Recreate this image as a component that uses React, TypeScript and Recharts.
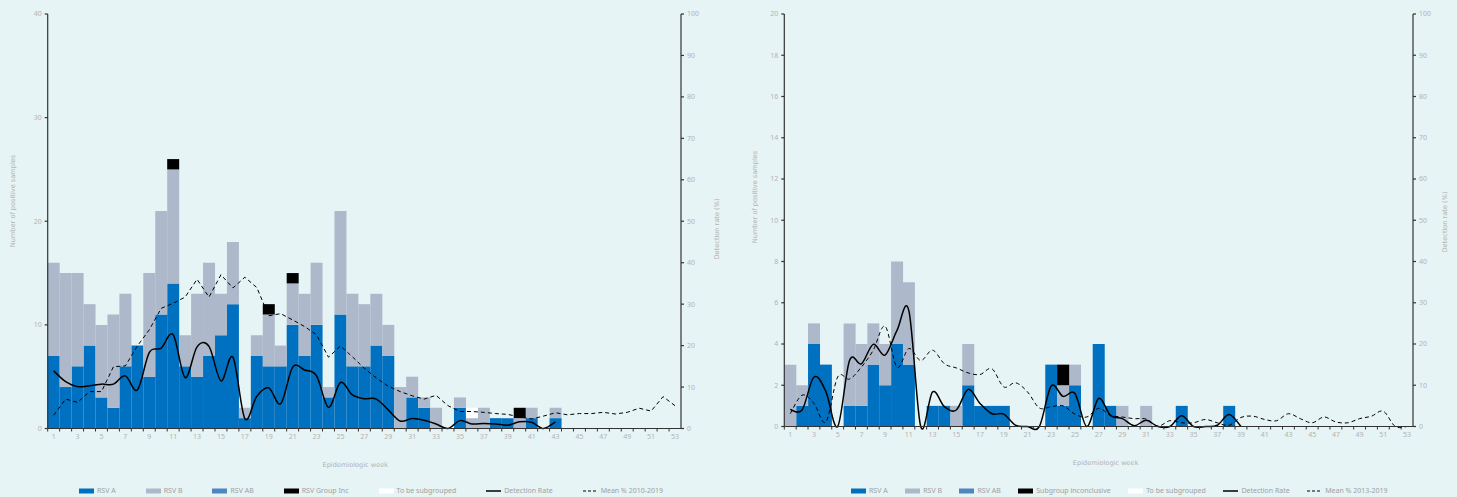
import React from "react";
import {
  ComposedChart,
  Bar,
  Line,
  XAxis,
  YAxis,
  Label,
} from "recharts";

// epidemiologic weeks 1..53
const weeks = Array.from({ length: 53 }, (_, i) => i + 1);

// left panel (2010-2019 mean)
const leftRsvA = [7, 4, 6, 8, 3, 2, 6, 8, 5, 11, 14, 6, 5, 7, 9, 12, 1, 7, 6, 6, 10, 7, 10, 3, 11, 6, 6, 8, 7, 0, 3, 2, 0, 0, 2, 0, 0, 1, 1, 0, 1, 0, 1];
const leftRsvB = [9, 11, 9, 4, 7, 9, 7, 0, 10, 10, 11, 3, 8, 9, 4, 6, 1, 2, 5, 2, 4, 6, 6, 1, 10, 7, 6, 5, 3, 4, 2, 1, 2, 0, 1, 1, 2, 0, 0, 1, 1, 0, 1];
const leftRsvAB: number[] = [];
const leftGroupInc = [0, 0, 0, 0, 0, 0, 0, 0, 0, 0, 1, 0, 0, 0, 0, 0, 0, 0, 1, 0, 1, 0, 0, 0, 0, 0, 0, 0, 0, 0, 0, 0, 0, 0, 0, 0, 0, 0, 0, 1];
const leftToSubgroup = [0, 0, 0, 0, 0, 0, 0, 0, 0, 0, 0, 0, 0, 0, 0, 0, 0, 0, 0, 0, 0, 0, 0, 0, 0, 0, 0, 0, 0, 0, 0, 0, 0, 0, 0, 1];
const leftDetection = [13.9, 11.3, 10.1, 10.3, 10.7, 10.7, 12.7, 9.3, 18.3, 19.4, 22.6, 12.3, 19.7, 19.8, 11.5, 17.2, 2.4, 7.8, 9.8, 6, 14.8, 14.1, 12.7, 5.1, 11.1, 8.1, 7.2, 7.1, 4.5, 1.8, 2.4, 2, 1.1, 0, 1.9, 1.1, 1.2, 1.1, 0.8, 1.6, 1.5, 0, 1.6];
const leftMean = [3.2, 7.1, 6.3, 8.9, 8.9, 14.9, 15.1, 19.9, 23.8, 29, 30.2, 31.7, 36, 31.7, 37.1, 33.9, 36.5, 34, 27.2, 27.7, 26.2, 24.6, 22.6, 17.2, 19.9, 17.3, 14.5, 12.2, 10.2, 8.9, 7.9, 7.1, 8, 5.5, 4.1, 4.1, 3.9, 3.6, 3.4, 2.8, 2.3, 3, 3.8, 3.3, 3.6, 3.6, 3.9, 3.5, 3.9, 4.9, 4.2, 7.7, 5.5];

// right panel (2013-2019 mean)
const rightRsvA = [0, 1, 4, 3, 0, 1, 1, 3, 2, 4, 3, 0, 1, 1, 0, 2, 1, 1, 1, 0, 0, 0, 3, 1, 2, 0, 4, 1, 0, 0, 0, 0, 0, 1, 0, 0, 0, 1];
const rightRsvB = [3, 1, 1, 0, 0, 4, 3, 2, 2, 4, 4, 0, 0, 0, 1, 2, 0, 0, 0, 0, 0, 0, 0, 1, 1, 0, 0, 0, 1, 0, 1];
const rightRsvAB: number[] = [];
const rightInconclusive = [0, 0, 0, 0, 0, 0, 0, 0, 0, 0, 0, 0, 0, 0, 0, 0, 0, 0, 0, 0, 0, 0, 0, 1];
const rightToSubgroup: number[] = [];
const rightDetection = [4.1, 4, 12, 8.5, 0, 16, 15.2, 19.9, 17.3, 23.3, 28.1, 0, 8.4, 4.8, 4, 9, 5.6, 3.1, 3, 0.3, 0, 0, 9.8, 7.3, 8, 0, 6.8, 2.7, 1.9, 0.2, 1.5, 0, 0, 2.6, 0, 0, 0.3, 2.9, 0];
const rightMean = [3.1, 7.6, 5.6, 1.1, 12, 11.5, 14.4, 18.5, 24.3, 14.4, 18.9, 16, 18.5, 15.2, 14.2, 13, 12.6, 14, 9.6, 10.6, 8.4, 4.5, 4.8, 5, 3, 2.3, 4.4, 2.7, 2.3, 1.9, 1.8, 0.1, 1.4, 0.9, 0.9, 1.7, 0.9, 0.3, 2.2, 2.5, 1.7, 1.4, 3.1, 1.9, 0.9, 2.3, 1.1, 0.9, 1.9, 2.5, 3.7, 0, 0];

const leftCountTicks = [0, 10, 20, 30, 40];
const rightCountTicks = [0, 2, 4, 6, 8, 10, 12, 14, 16, 18, 20];
const rateTicks = [0, 10, 20, 30, 40, 50, 60, 70, 80, 90, 100];

const BG = "#e6f4f5";
const BLUE = "#0070c0";
const GREY = "#adb9ca";
const AB = "#4f86c0";
const TXT = "#b3b3b3";
const AXIS = "#333";
const FONT = "'Noto Sans', sans-serif";
const WIDE = "'DejaVu Sans', sans-serif";

// catmull-rom style smoothing (like spreadsheet "smoothed line")
const smooth: any = (context: any) => {
  let pts: number[][] = [];
  return {
    areaStart() {},
    areaEnd() {},
    lineStart() {
      pts = [];
    },
    point(x: number, y: number) {
      pts.push([+x, +y]);
    },
    lineEnd() {
      const n = pts.length;
      if (!n) return;
      context.moveTo(pts[0][0], pts[0][1]);
      for (let i = 0; i < n - 1; i++) {
        const p0 = pts[i - 1] || pts[i];
        const p1 = pts[i];
        const p2 = pts[i + 1];
        const p3 = pts[i + 2] || p2;
        context.bezierCurveTo(
          p1[0] + (p2[0] - p0[0]) / 6,
          p1[1] + (p2[1] - p0[1]) / 6,
          p2[0] - (p3[0] - p1[0]) / 6,
          p2[1] - (p3[1] - p1[1]) / 6,
          p2[0],
          p2[1]
        );
      }
    },
  };
};

const val = (arr: number[], i: number) => (arr[i] === undefined ? 0 : arr[i]);
const opt = (arr: number[], i: number) => (arr[i] === undefined ? null : arr[i]);

const leftData = weeks.map((w, i) => ({
  week: w,
  a: val(leftRsvA, i),
  b: val(leftRsvB, i),
  ab: val(leftRsvAB, i),
  inc: val(leftGroupInc, i),
  sub: val(leftToSubgroup, i),
  rate: opt(leftDetection, i),
  mean: opt(leftMean, i),
}));

const rightData = weeks.map((w, i) => ({
  week: w,
  a: val(rightRsvA, i),
  b: val(rightRsvB, i),
  ab: val(rightRsvAB, i),
  inc: val(rightInconclusive, i),
  sub: val(rightToSubgroup, i),
  rate: opt(rightDetection, i),
  mean: opt(rightMean, i),
}));

const TICK_SIZE = 3;
const TICK_MARGIN = 3;

const makeWeekTick = (band: number) => (props: any) => {
  const { x, y, payload } = props;
  const axisY = y - TICK_SIZE - TICK_MARGIN;
  const bx = x - band / 2;
  return (
    <g>
      <line x1={bx} x2={bx} y1={axisY} y2={axisY + TICK_SIZE} stroke={AXIS} strokeWidth={1} />
      {payload.value % 2 === 1 && (
        <text x={x} y={y} dy="0.71em" textAnchor="middle" fill={TXT} fontSize={7} fontFamily={FONT}>
          {payload.value}
        </text>
      )}
    </g>
  );
};

// rotated axis title, placed from the axis box
const sideTitle = (text: string, fromLeft: boolean, dist: number, cy: number) => (props: any) => {
  const vb = props.viewBox || {};
  const x = fromLeft ? vb.x + vb.width - dist : vb.x + dist;
  return (
    <text
      x={x}
      y={cy}
      transform={`rotate(-90, ${x}, ${cy})`}
      textAnchor="middle"
      dominantBaseline="central"
      fill={TXT}
      fontSize={6.6}
      fontFamily={WIDE}
    >
      {text}
    </text>
  );
};

type PanelProps = {
  data: any[];
  width: number;
  leftW: number;
  rightW: number;
  bottom: number;
  countMax: number;
  countTicks: number[];
  smoothMean: boolean;
  leftTitleDist: number;
  leftTitleY: number;
  rightTitleDist: number;
  rightTitleY: number;
  weekDx: number;
};

const Panel = (p: PanelProps) => {
  const band = (p.width - p.leftW - p.rightW) / 53;
  const tickStyle = { fill: TXT, fontSize: 7, fontFamily: FONT };
  return (
    <ComposedChart
      width={p.width}
      height={497}
      data={p.data}
      margin={{ top: 14, right: 0, bottom: p.bottom, left: 0 }}
      barCategoryGap={0}
      barGap={0}
    >
      <XAxis
        dataKey="week"
        interval={0}
        height={40}
        stroke={AXIS}
        strokeWidth={1.2}
        tickLine={false}
        tickSize={TICK_SIZE}
        tickMargin={TICK_MARGIN}
        tick={makeWeekTick(band)}
      >
        <Label
          value="Epidemiologic week"
          position="insideBottom"
          offset={2}
          dx={p.weekDx}
          fill={TXT}
          fontSize={6.6}
          fontFamily={WIDE}
        />
      </XAxis>
      <YAxis
        yAxisId="count"
        width={p.leftW}
        domain={[0, p.countMax]}
        ticks={p.countTicks}
        interval={0}
        stroke={AXIS}
        strokeWidth={1.2}
        tickSize={3}
        tickMargin={3}
        tick={tickStyle}
      >
        <Label content={sideTitle("Number of positive samples", true, p.leftTitleDist, p.leftTitleY)} />
      </YAxis>
      <YAxis
        yAxisId="rate"
        orientation="right"
        width={p.rightW}
        domain={[0, 100]}
        ticks={rateTicks}
        interval={0}
        stroke={AXIS}
        strokeWidth={1.2}
        tickSize={3}
        tickMargin={3}
        tick={tickStyle}
      >
        <Label content={sideTitle("Detection rate (%)", false, p.rightTitleDist, p.rightTitleY)} />
      </YAxis>
      <Bar yAxisId="count" dataKey="a" stackId="s" fill={BLUE} isAnimationActive={false} />
      <Bar yAxisId="count" dataKey="b" stackId="s" fill={GREY} isAnimationActive={false} />
      <Bar yAxisId="count" dataKey="ab" stackId="s" fill={AB} isAnimationActive={false} />
      <Bar yAxisId="count" dataKey="inc" stackId="s" fill="#000" isAnimationActive={false} />
      <Bar yAxisId="count" dataKey="sub" stackId="s" fill="#ffffff" isAnimationActive={false} />
      <Line
        yAxisId="rate"
        dataKey="mean"
        type={p.smoothMean ? smooth : "linear"}
        stroke="#000"
        strokeWidth={1}
        strokeDasharray="4 3"
        dot={false}
        activeDot={false}
        isAnimationActive={false}
      />
      <Line
        yAxisId="rate"
        dataKey="rate"
        type={smooth}
        stroke="#000"
        strokeWidth={1.5}
        dot={false}
        activeDot={false}
        isAnimationActive={false}
      />
    </ComposedChart>
  );
};

type LegendItem = { label: string; kind: "box" | "line" | "dash"; color: string };

const leftLegend: LegendItem[] = [
  { label: "RSV A", kind: "box", color: BLUE },
  { label: "RSV B", kind: "box", color: GREY },
  { label: "RSV AB", kind: "box", color: AB },
  { label: "RSV Group Inc", kind: "box", color: "#000" },
  { label: "To be subgrouped", kind: "box", color: "#fff" },
  { label: "Detection Rate", kind: "line", color: "#000" },
  { label: "Mean % 2010-2019", kind: "dash", color: "#000" },
];

const rightLegend: LegendItem[] = [
  { label: "RSV A", kind: "box", color: BLUE },
  { label: "RSV B", kind: "box", color: GREY },
  { label: "RSV AB", kind: "box", color: AB },
  { label: "Subgroup inconclusive", kind: "box", color: "#000" },
  { label: "To be subgrouped", kind: "box", color: "#fff" },
  { label: "Detection Rate", kind: "line", color: "#000" },
  { label: "Mean % 2013-2019", kind: "dash", color: "#000" },
];

const LegendRow = ({ items, left, gap }: { items: LegendItem[]; left: number; gap: number }) => (
  <div
    style={{
      position: "absolute",
      left,
      top: 486,
      display: "flex",
      alignItems: "center",
      gap,
      fontFamily: FONT,
      fontSize: 7,
      color: "#a0a0a0",
      whiteSpace: "nowrap",
    }}
  >
    {items.map((it) => (
      <div key={it.label} style={{ display: "flex", alignItems: "center" }}>
        <svg width={16} height={6} style={{ marginRight: 2 }}>
          {it.kind === "box" && <rect x={0} y={0.5} width={15} height={5} fill={it.color} />}
          {it.kind === "line" && <line x1={0} x2={15} y1={3} y2={3} stroke={it.color} strokeWidth={1.5} />}
          {it.kind === "dash" && (
            <line x1={0} x2={15} y1={3} y2={3} stroke={it.color} strokeWidth={1} strokeDasharray="3 2" />
          )}
        </svg>
        <span>{it.label}</span>
      </div>
    ))}
  </div>
);

export default function App() {
  return (
    <div style={{ position: "fixed", left: 0, top: 0, width: 1457, height: 497, background: BG, overflow: "hidden" }}>
      <div style={{ position: "absolute", left: 0, top: 0 }}>
        <Panel
          data={leftData}
          width={730}
          leftW={47.7}
          rightW={49}
          bottom={28.5}
          countMax={40}
          countTicks={leftCountTicks}
          smoothMean={false}
          leftTitleDist={35}
          leftTitleY={201}
          rightTitleDist={36}
          rightTitleY={229}
          weekDx={-9}
        />
      </div>
      <div style={{ position: "absolute", left: 730, top: 0 }}>
        <Panel
          data={rightData}
          width={727}
          leftW={54.3}
          rightW={44}
          bottom={30.5}
          countMax={20}
          countTicks={rightCountTicks}
          smoothMean={true}
          leftTitleDist={29}
          leftTitleY={197}
          rightTitleDist={32}
          rightTitleY={222}
          weekDx={7}
        />
      </div>
      <LegendRow items={leftLegend} left={79} gap={30} />
      <LegendRow items={rightLegend} left={851} gap={17.5} />
    </div>
  );
}
